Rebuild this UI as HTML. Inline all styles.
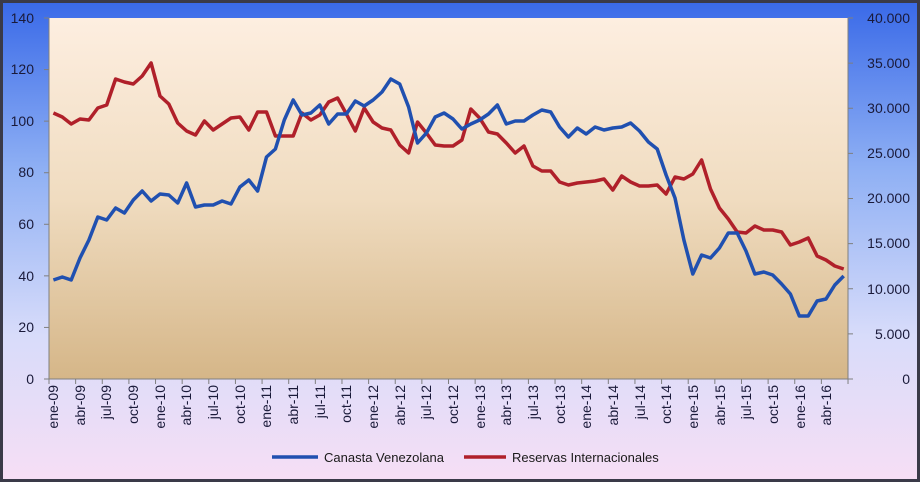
<!DOCTYPE html>
<html><head><meta charset="utf-8"><style>
html,body{margin:0;padding:0;}
body{width:920px;height:482px;overflow:hidden;font-family:"Liberation Sans",sans-serif;}
</style></head><body>
<svg id="s" width="920" height="482" xmlns="http://www.w3.org/2000/svg" font-family="Liberation Sans, sans-serif">
<defs>
<linearGradient id="bg" x1="0" y1="0" x2="0" y2="1">
<stop offset="0" stop-color="#3a6ae8"/><stop offset="0.35" stop-color="#8fb0f4"/><stop offset="0.7" stop-color="#d8dcfa"/><stop offset="1" stop-color="#f6def5"/>
</linearGradient>
<linearGradient id="pa" x1="0" y1="0" x2="0" y2="1">
<stop offset="0" stop-color="#fdeee0"/><stop offset="0.5" stop-color="#f0dcc0"/><stop offset="1" stop-color="#d5b688"/>
</linearGradient>
</defs>
<rect x="0" y="0" width="920" height="482" fill="#3a3a48"/>
<rect x="3" y="3" width="914" height="476" fill="url(#bg)"/>
<rect x="49" y="18" width="799" height="361" fill="url(#pa)"/>
<g stroke="#7f7f7f" stroke-width="1">
<line x1="49" y1="18" x2="49" y2="379"/><line x1="848" y1="18" x2="848" y2="379"/><line x1="49" y1="379" x2="848" y2="379"/>
</g>
<g id="ticks" stroke="#7f7f7f"></g>
<g font-size="14" fill="#1a1a3a" text-anchor="end">
<text x="34" y="23">140</text><text x="34" y="74">120</text><text x="34" y="126">100</text><text x="34" y="177">80</text><text x="34" y="229">60</text><text x="34" y="281">40</text><text x="34" y="332">20</text><text x="34" y="384">0</text>
</g>
<g font-size="14" fill="#1a1a3a" text-anchor="end">
<text x="910" y="23">40.000</text><text x="910" y="68">35.000</text><text x="910" y="113">30.000</text><text x="910" y="158">25.000</text><text x="910" y="203">20.000</text><text x="910" y="248">15.000</text><text x="910" y="294">10.000</text><text x="910" y="339">5.000</text><text x="910" y="384">0</text>
</g>
<g font-size="14" fill="#1a1a3a" text-anchor="end">
<text transform="translate(58,385) rotate(-90)">ene-09</text>
<text transform="translate(85,385) rotate(-90)">abr-09</text>
<text transform="translate(111,385) rotate(-90)">jul-09</text>
<text transform="translate(138,385) rotate(-90)">oct-09</text>
<text transform="translate(165,385) rotate(-90)">ene-10</text>
<text transform="translate(191,385) rotate(-90)">abr-10</text>
<text transform="translate(218,385) rotate(-90)">jul-10</text>
<text transform="translate(245,385) rotate(-90)">oct-10</text>
<text transform="translate(271,385) rotate(-90)">ene-11</text>
<text transform="translate(298,385) rotate(-90)">abr-11</text>
<text transform="translate(325,385) rotate(-90)">jul-11</text>
<text transform="translate(351,385) rotate(-90)">oct-11</text>
<text transform="translate(378,385) rotate(-90)">ene-12</text>
<text transform="translate(405,385) rotate(-90)">abr-12</text>
<text transform="translate(431,385) rotate(-90)">jul-12</text>
<text transform="translate(458,385) rotate(-90)">oct-12</text>
<text transform="translate(485,385) rotate(-90)">ene-13</text>
<text transform="translate(511,385) rotate(-90)">abr-13</text>
<text transform="translate(538,385) rotate(-90)">jul-13</text>
<text transform="translate(565,385) rotate(-90)">oct-13</text>
<text transform="translate(591,385) rotate(-90)">ene-14</text>
<text transform="translate(618,385) rotate(-90)">abr-14</text>
<text transform="translate(645,385) rotate(-90)">jul-14</text>
<text transform="translate(671,385) rotate(-90)">oct-14</text>
<text transform="translate(698,385) rotate(-90)">ene-15</text>
<text transform="translate(725,385) rotate(-90)">abr-15</text>
<text transform="translate(751,385) rotate(-90)">jul-15</text>
<text transform="translate(778,385) rotate(-90)">oct-15</text>
<text transform="translate(805,385) rotate(-90)">ene-16</text>
<text transform="translate(831,385) rotate(-90)">abr-16</text>
</g>
<path id="red" fill="none" stroke="#b0202a" stroke-width="3.5" stroke-linejoin="round"/>
<path id="blue" fill="none" stroke="#2050b0" stroke-width="3.5" stroke-linejoin="round"/>
<line x1="272" y1="457" x2="318" y2="457" stroke="#2050b0" stroke-width="3.5"/>
<text x="324" y="462" font-size="13" fill="#1a1a1a">Canasta Venezolana</text>
<line x1="464" y1="457" x2="506" y2="457" stroke="#b0202a" stroke-width="3.5"/>
<text x="512" y="462" font-size="13" fill="#1a1a1a">Reservas Internacionales</text>
</svg>
<script>
var b=[280,277,280,258,240,217,220,208,213,200,191,201,194,195,203,183,207,205,205,201,204,187,180,191,157,149,120,100,115,113,105,124,114,114,101,106,100,92,79,84,107,143,133,117,113,119,129,124,120,114,105,124,121,121,115,110,112,127,137,128,134,127,130,128,127,123,131,142,149,175,198,240,274,255,258,248,233,233,251,274,272,275,284,294,316,316,301,299,285,276];
var r=[113,117,124,119,120,108,105,79,82,84,76,63,96,104,123,131,135,121,130,124,118,117,130,112,112,136,136,136,113,120,115,102,98,114,131,108,122,128,130,145,153,122,133,145,146,146,140,109,118,132,134,143,153,146,166,171,171,182,185,183,182,181,179,190,176,182,186,186,185,194,177,179,174,160,189,208,219,232,233,226,230,230,232,245,242,238,256,260,266,269];
function p(a){return a.map(function(y,i){return (i?'L':'M')+(53.4+8.88*i).toFixed(1)+','+y;}).join('');}
document.getElementById('blue').setAttribute('d',p(b));
document.getElementById('red').setAttribute('d',p(r));
var t='';for(var i=0;i<=90;i+=3){var x=49+8.878*i;t+='<line x1="'+x+'" y1="379" x2="'+x+'" y2="384"/>';}
for(var j=0;j<8;j++){var y=18+j*361/7;t+='<line x1="44" y1="'+y+'" x2="49" y2="'+y+'"/>';}
for(var k=0;k<9;k++){var y2=18+k*361/8;t+='<line x1="848" y1="'+y2+'" x2="853" y2="'+y2+'"/>';}
document.getElementById('ticks').innerHTML=t;
</script>
</body></html>
